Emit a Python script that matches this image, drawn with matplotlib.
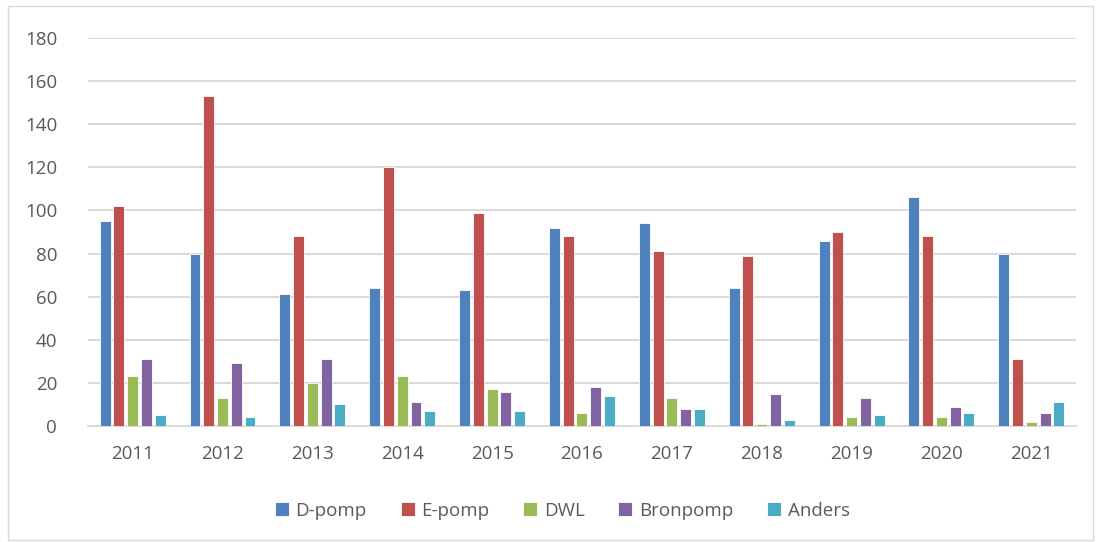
import matplotlib
matplotlib.use("Agg")
import matplotlib.pyplot as plt
import numpy as np
from matplotlib.patches import Rectangle

years = ["2011", "2012", "2013", "2014", "2015", "2016", "2017", "2018", "2019", "2020", "2021"]
d_pomp = [95, 80, 61, 64, 63, 92, 94, 64, 86, 106, 80]
e_pomp = [102, 153, 88, 120, 99, 88, 81, 79, 90, 88, 31]
dwl = [23, 13, 20, 23, 17, 6, 13, 1, 4, 4, 2]
bronpomp = [31, 29, 31, 11, 16, 18, 8, 15, 13, 9, 6]
anders = [5, 4, 10, 7, 7, 14, 8, 3, 5, 6, 11]

series = [("D-pomp", d_pomp, "#4F81BD"),
          ("E-pomp", e_pomp, "#C0504D"),
          ("DWL", dwl, "#9BBB59"),
          ("Bronpomp", bronpomp, "#8064A2"),
          ("Anders", anders, "#4BACC6")]

plt.rcParams['font.family'] = ['Open Sans', 'DejaVu Sans']

fig = plt.figure(figsize=(10.96, 5.42), dpi=100)
ax = fig.add_axes([0.080, 0.214, 0.902, 0.716])

x = np.arange(len(years))
step = 0.153
width = 0.122
for i, (name, vals, col) in enumerate(series):
    ax.bar(x + (i - 2) * step, vals, width=width, color=col, label=name,
           edgecolor="white", linewidth=0.6, zorder=3)

ax.set_xlim(-0.5, len(years) - 0.5)
ax.set_ylim(0, 180)
ax.set_yticks(range(0, 181, 20))
ax.set_xticks(x)
ax.set_xticklabels(years)
ax.grid(axis="y", color="#D9D9D9", linewidth=1.4, zorder=0)
for s in ["top", "right", "left"]:
    ax.spines[s].set_visible(False)
ax.spines["bottom"].set_color("#D9D9D9")
ax.spines["bottom"].set_linewidth(1.4)
ax.tick_params(axis="both", length=0, labelsize=13.5, colors="#595959")
ax.tick_params(axis="x", pad=14)
ax.tick_params(axis="y", pad=22)

leg = fig.legend(loc="center", bbox_to_anchor=(0.513, 0.058), ncol=5, frameon=False,
                 fontsize=13.5, handlelength=0.75, handleheight=0.75, handletextpad=0.35,
                 columnspacing=1.8, labelcolor="#595959")

fig.patches.append(Rectangle((0.007, 0.004), 0.99, 0.985, transform=fig.transFigure,
                             fill=False, edgecolor="#D9D9D9", linewidth=1))

fig.savefig("out.png", dpi=100)
